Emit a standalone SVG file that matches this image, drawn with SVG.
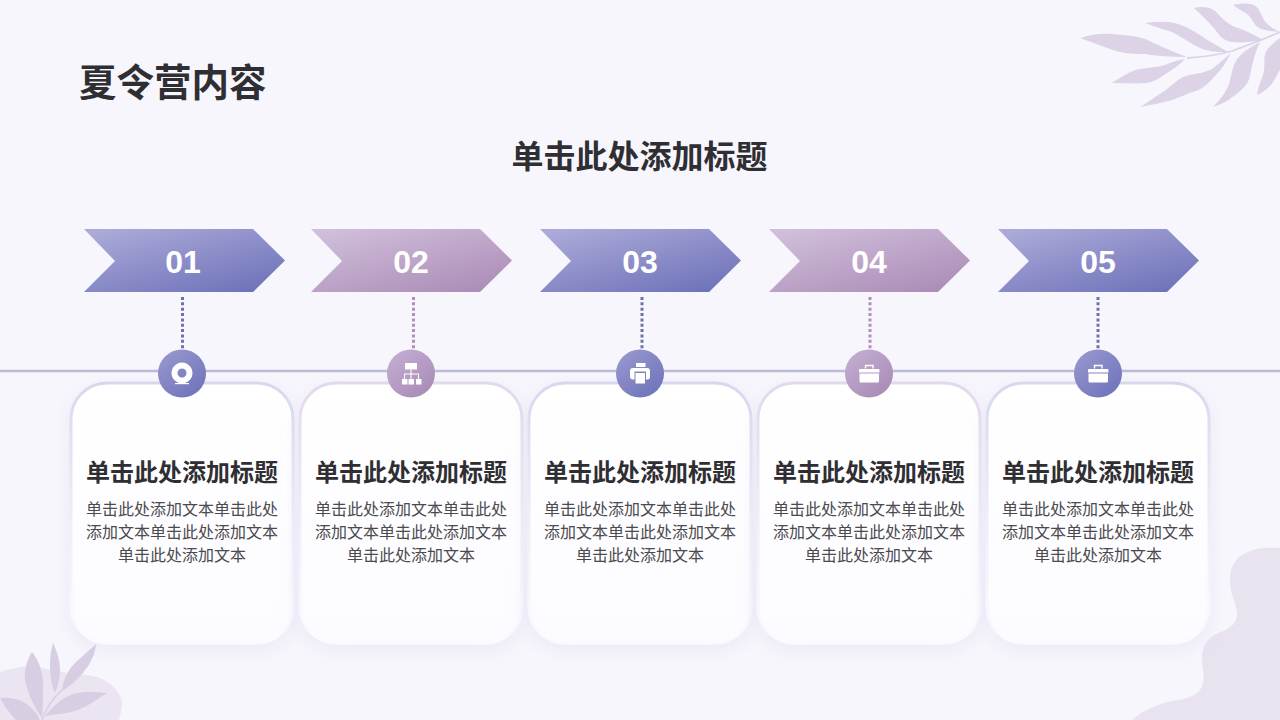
<svg xmlns="http://www.w3.org/2000/svg" xmlns:xlink="http://www.w3.org/1999/xlink" width="1280" height="720" viewBox="0 0 1280 720">
<style>
text{font-family:"Noto Sans CJK SC","Liberation Sans",sans-serif;fill:#333333}
.t{font-size:24px;font-weight:700;text-anchor:middle;fill:#2f2f33}
.b{font-size:16px;text-anchor:middle;fill:#4a4a4f}
.n{font-family:"Liberation Sans",Arial,sans-serif;font-size:32px;font-weight:700;text-anchor:middle;fill:#fff}
.leaf{fill:#ddd3e7}
.ic{fill:#fff}
.dot{fill:none;stroke-width:3;stroke-dasharray:3 2.35}
</style>
<defs>
<linearGradient id="gb" x1="0.1" y1="0" x2="0.9" y2="1"><stop offset="0" stop-color="#abaad8"/><stop offset="1" stop-color="#6d71b9"/></linearGradient>
<linearGradient id="gp" x1="0.1" y1="0" x2="0.9" y2="1"><stop offset="0" stop-color="#d0bfdb"/><stop offset="1" stop-color="#ab8bb6"/></linearGradient>
<linearGradient id="cb" x1="0" y1="0" x2="0.8" y2="1"><stop offset="0" stop-color="#9b9bd0"/><stop offset="1" stop-color="#6f73ba"/></linearGradient>
<linearGradient id="cp" x1="0" y1="0" x2="0.8" y2="1"><stop offset="0" stop-color="#c5b0d4"/><stop offset="1" stop-color="#a98bb6"/></linearGradient>
<linearGradient id="cf" x1="0" y1="0" x2="0" y2="1"><stop offset="0" stop-color="#ffffff"/><stop offset="1" stop-color="#fcfbff"/></linearGradient>
<linearGradient id="sb" x1="0" y1="0" x2="0" y2="1"><stop offset="0" stop-color="#d9d7ee"/><stop offset=".55" stop-color="#f0eff8"/><stop offset="1" stop-color="#fbfaff"/></linearGradient>
<linearGradient id="sp" x1="0" y1="0" x2="0" y2="1"><stop offset="0" stop-color="#e3d9ec"/><stop offset=".55" stop-color="#f2eef7"/><stop offset="1" stop-color="#fbfaff"/></linearGradient>
<filter id="sh" x="-20%" y="-20%" width="140%" height="140%"><feDropShadow dx="0" dy="6" stdDeviation="10" flood-color="#c0bbe4" flood-opacity=".22"/></filter>
<path id="chev" d="M0 0H169L201 31.5L169 63H0L31 32Z"/>
</defs>
<rect width="1280" height="720" fill="#f7f6fc"/>

<g id="decor">
<path d="M0 672C10 668 20 668 30 665C50 670 70 674 88 675C108 678 120 690 122 702C122 710 120 716 119 720H0Z" fill="#ebe5f1"/>
<g class="leaf" style="fill:#d8cee3">
<path d="M32 652C40 662 44 675 43 690C43 702 43 710 42 718C35 708 28 695 25 680C24 670 27 660 32 652Z"/>
<path d="M53 643C57 652 60 660 60 670C60 678 58 686 55 693C51 685 50 675 50 665C50 657 51 650 53 643Z"/>
<path d="M96 644C95 655 90 665 82 674C76 681 70 686 62 691C63 680 68 670 75 663C82 656 90 650 96 644Z"/>
<path d="M107 693C97 699 90 705 80 709C68 714 55 714 45 716C52 707 62 698 73 694C84 691 96 692 107 693Z"/>
<path d="M0 698C10 697 20 699 28 705C34 710 38 715 40 720H16C10 714 4 705 0 698Z"/>
<path d="M42 720C46 708 54 697 63 689" fill="none" stroke="#d8cee3" stroke-width="1.5"/>
</g>
<path d="M1280 548C1265 546 1248 549 1238 558C1230 566 1229 578 1231 590C1233 600 1238 608 1237 616C1236 626 1226 630 1216 634C1206 639 1202 648 1202 658C1202 668 1205 676 1203 684C1200 694 1190 698 1178 700C1164 702 1145 708 1132 720H1280Z" fill="#e9e3f0"/>
<g class="leaf">
<path d="M1080 38C1092 34 1102 33 1112 34C1125 35 1135 36 1145 39C1155 43 1165 49 1187 57C1170 57 1155 56 1145 54C1130 54 1120 53 1110 49C1100 45 1090 42 1080 38Z"/>
<path d="M1112 83C1120 78 1128 72 1136 70C1146 67 1156 68 1165 65C1172 62 1178 60 1185 59C1180 64 1174 69 1167 73C1160 78 1154 82 1146 83C1135 84 1123 83 1112 83Z"/>
<path d="M1145 23C1155 22 1165 21 1175 23C1185 26 1192 30 1200 35C1210 42 1220 47 1228 52C1218 52 1208 52 1198 47C1190 43 1182 37 1172 32C1162 29 1153 26 1145 23Z"/>
<path d="M1140 107C1148 102 1158 95 1166 90C1173 84 1178 79 1186 76C1197 73 1205 73 1212 69C1220 63 1226 57 1231 53C1226 62 1222 69 1216 75C1210 82 1204 88 1196 91C1188 93 1181 97 1172 100C1162 103 1150 105 1140 107Z"/>
<path d="M1194 8C1202 6 1210 7 1215 11C1222 18 1226 23 1235 27C1245 30 1255 35 1263 40C1252 42 1242 43 1232 42C1222 41 1218 33 1213 27C1207 20 1200 14 1194 8Z"/>
<path d="M1213 107C1220 100 1226 92 1229 84C1232 74 1232 66 1238 58C1244 51 1252 46 1260 42C1256 50 1254 58 1252 66C1250 74 1250 80 1246 85C1240 92 1235 95 1230 99C1224 103 1219 105 1213 107Z"/>
<path d="M1233 5C1240 3 1248 3 1254 5C1260 9 1261 15 1264 20C1268 26 1274 29 1280 32C1272 31 1265 31 1259 28C1253 24 1252 18 1247 14C1242 11 1237 8 1233 5Z"/>
<path d="M1257 95C1258 85 1263 78 1264 70C1265 62 1263 56 1267 50C1271 45 1276 41 1280 38V70C1276 76 1274 82 1270 86C1266 90 1262 93 1257 95Z"/>
<path d="M1187 58C1203 57 1218 55 1232 51C1245 46 1260 41 1280 32" fill="none" stroke="#ddd3e7" stroke-width="1.8"/>
</g>
</g>

<text x="79" y="96" font-size="37.500" font-weight="700" id="title" style="fill:#2f2f33">夏令营内容</text>
<text x="639.500" y="168" font-size="32" font-weight="700" text-anchor="middle" style="fill:#2f2f33" id="subtitle">单击此处添加标题</text>

<g id="connectors">
<line x1="0" y1="371" x2="1280" y2="371" stroke="#bcbad6" stroke-width="2.500"/>
<line class="dot" x1="182.500" y1="297" x2="182.500" y2="349" stroke="#6f71ad"/>
<line class="dot" x1="413.500" y1="297" x2="413.500" y2="349" stroke="#b08fbb"/>
<line class="dot" x1="642" y1="297" x2="642" y2="349" stroke="#6f71ad"/>
<line class="dot" x1="870" y1="297" x2="870" y2="349" stroke="#b08fbb"/>
<line class="dot" x1="1098" y1="297" x2="1098" y2="349" stroke="#6f71ad"/>
</g>

<g id="card1"><rect x="71" y="383" width="222" height="260" rx="36" fill="url(#cf)" stroke="url(#sb)" stroke-width="3" filter="url(#sh)"/>
<text class="t" x="182" y="481">单击此处添加标题</text>
<text class="b" x="182" y="514.500">单击此处添加文本单击此处</text><text class="b" x="182" y="538">添加文本单击此处添加文本</text><text class="b" x="182" y="561">单击此处添加文本</text></g>
<g id="card2"><rect x="300" y="383" width="222" height="260" rx="36" fill="url(#cf)" stroke="url(#sp)" stroke-width="3" filter="url(#sh)"/>
<text class="t" x="411" y="481">单击此处添加标题</text>
<text class="b" x="411" y="514.500">单击此处添加文本单击此处</text><text class="b" x="411" y="538">添加文本单击此处添加文本</text><text class="b" x="411" y="561">单击此处添加文本</text></g>
<g id="card3"><rect x="529" y="383" width="222" height="260" rx="36" fill="url(#cf)" stroke="url(#sb)" stroke-width="3" filter="url(#sh)"/>
<text class="t" x="640" y="481">单击此处添加标题</text>
<text class="b" x="640" y="514.500">单击此处添加文本单击此处</text><text class="b" x="640" y="538">添加文本单击此处添加文本</text><text class="b" x="640" y="561">单击此处添加文本</text></g>
<g id="card4"><rect x="758" y="383" width="222" height="260" rx="36" fill="url(#cf)" stroke="url(#sp)" stroke-width="3" filter="url(#sh)"/>
<text class="t" x="869" y="481">单击此处添加标题</text>
<text class="b" x="869" y="514.500">单击此处添加文本单击此处</text><text class="b" x="869" y="538">添加文本单击此处添加文本</text><text class="b" x="869" y="561">单击此处添加文本</text></g>
<g id="card5"><rect x="987" y="383" width="222" height="260" rx="36" fill="url(#cf)" stroke="url(#sb)" stroke-width="3" filter="url(#sh)"/>
<text class="t" x="1098" y="481">单击此处添加标题</text>
<text class="b" x="1098" y="514.500">单击此处添加文本单击此处</text><text class="b" x="1098" y="538">添加文本单击此处添加文本</text><text class="b" x="1098" y="561">单击此处添加文本</text></g>

<g id="step1"><use xlink:href="#chev" href="#chev" x="84" y="229" fill="url(#gb)"/><text class="n" x="183" y="273">01</text></g>
<g id="step2"><use xlink:href="#chev" href="#chev" x="311" y="229" fill="url(#gp)"/><text class="n" x="411" y="273">02</text></g>
<g id="step3"><use xlink:href="#chev" href="#chev" x="540" y="229" fill="url(#gb)"/><text class="n" x="640" y="273">03</text></g>
<g id="step4"><use xlink:href="#chev" href="#chev" x="769" y="229" fill="url(#gp)"/><text class="n" x="869" y="273">04</text></g>
<g id="step5"><use xlink:href="#chev" href="#chev" x="998" y="229" fill="url(#gb)"/><text class="n" x="1098" y="273">05</text></g>

<g id="icon1"><circle cx="182" cy="373.500" r="24" fill="url(#cb)"/>
<path class="ic" fill-rule="evenodd" d="M182 362.500a10.500 10.500 0 1 1-.01 0ZM182 368.500a4.500 4.500 0 1 0 .01 0Z"/><rect class="ic" x="175" y="383" width="14" height="1.200"/></g>
<g id="icon2"><circle cx="411" cy="373.500" r="24" fill="url(#cp)"/>
<path class="ic" d="M405 363h12v6.500h-12ZM402 379h5.500v5.500h-5.500ZM408.500 379h5.500v5.500h-5.500ZM416 379h5.500v5.500h-5.500Z"/>
<path d="M411 369.500v9.500M404.500 379v-5h14v5" fill="none" stroke="#fff" stroke-width="1.100"/></g>
<g id="icon3"><circle cx="640" cy="373.500" r="24" fill="url(#cb)"/>
<path class="ic" d="M636 363h9.500v4h-9.500ZM633 368h14c2 0 3 1 3 3v6c0 1.500-1 2.500-2.500 2.500H646v-8h-11.500v8h-1.500c-1.500 0-3-1-3-2.500v-6c0-2 1-3 3-3ZM635.500 373h9.500v10.500h-9.500Z"/></g>
<g id="icon4"><circle cx="869" cy="373.500" r="24" fill="url(#cp)"/>
<path class="ic" d="M860 369h18.500c.5 0 1 .5 1 1v2.500H859v-2.500c0-.5.5-1 1-1ZM859.500 373.500h19.500v7.500c0 1-.7 1.500-1.500 1.500h-16.500c-.8 0-1.500-.5-1.500-1.500Z"/>
<path d="M865.500 368.500v-3h7.500v3" fill="none" stroke="#fff" stroke-width="1.400"/></g>
<g id="icon5"><circle cx="1098" cy="373.500" r="24" fill="url(#cb)"/>
<path class="ic" d="M1089 369h18.500c.5 0 1 .5 1 1v2.500H1088v-2.500c0-.5.5-1 1-1ZM1088.500 373.500h19.500v7.500c0 1-.7 1.500-1.500 1.500h-16.500c-.8 0-1.500-.5-1.500-1.500Z"/>
<path d="M1094.500 368.500v-3h7.500v3" fill="none" stroke="#fff" stroke-width="1.400"/></g>
</svg>
